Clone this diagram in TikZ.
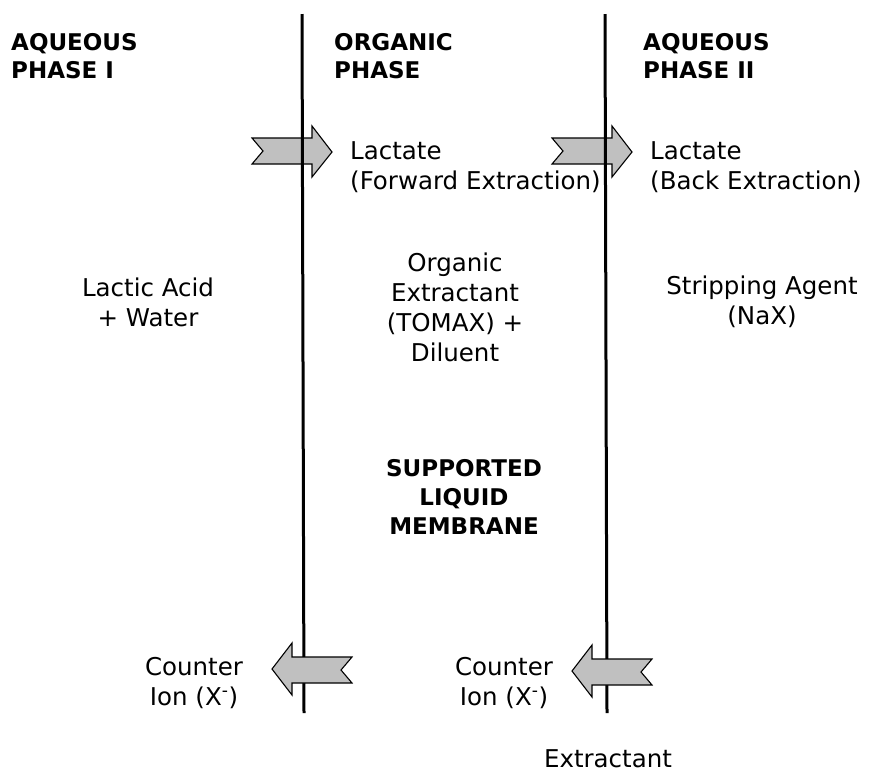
\documentclass[tikz,border=0pt]{standalone}
\usepackage{fontspec}
\setmainfont{DejaVu Sans}
\definecolor{flowgray}{RGB}{192,192,192}
\begin{document}
\begin{tikzpicture}[x=1pt, y=-1pt, flow/.style={draw=black, fill=flowgray, line width=1.1pt, line join=miter}]
        \tikzset{phase/.style={font=\bfseries\fontsize{23}{28}\selectfont, align=left, anchor=west, inner sep=0pt},
                 txt/.style={font=\fontsize{24.5}{30}\selectfont, align=center, inner sep=0pt},
                 wall/.style={line width=3pt}};
        \useasboundingbox (0,0) rectangle (874,772);

        % phase titles
        \node[phase] (aq1) at (11, 56) {AQUEOUS\\PHASE I};
        \node[phase] (org) at (334, 56) {ORGANIC\\PHASE};
        \node[phase] (aq2) at (643, 56) {AQUEOUS\\PHASE II};

        % lactate going across
        \foreach \ax in {252, 552}
            \draw[flow] (\ax,138) -- ++(60,0) -- ++(0,-12) -- ++(20,26) -- ++(-20,25)
                -- ++(0,-13) -- ++(-60,0) -- ++(11,-13) -- cycle;

        % membrane walls
        \coordinate (w1top) at (302, 14);
        \coordinate (w1bot) at (304, 713);
        \coordinate (w2top) at (605, 14);
        \coordinate (w2bot) at (607, 713);
        \draw[wall] (w1top) -- (w1bot);
        \draw[wall] (w2top) -- (w2bot);

        % counter ions coming back
        \foreach \ax/\ay in {272/669, 572/671}
            \draw[flow] (\ax,\ay) -- ++(20,-26) -- ++(0,14) -- ++(60,0) -- ++(-11,13)
                -- ++(11,13) -- ++(-60,0) -- ++(0,12) -- cycle;

        \node[txt, align=left, anchor=west] (lac1) at (350, 167) {Lactate\\(Forward Extraction)};
        \node[txt, align=left, anchor=west] (lac2) at (650, 167) {Lactate\\(Back Extraction)};
        \node[txt] (feed) at (148, 302) {Lactic Acid\\+ Water};
        \node[txt] (solv) at (455, 307) {Organic\\Extractant\\(TOMAX) +\\Diluent};
        \node[txt] (strip) at (762, 302) {Stripping Agent\\(NaX)};
        \node[txt, font=\bfseries\fontsize{23}{29}\selectfont] (slm) at (464, 497) {SUPPORTED\\LIQUID\\MEMBRANE};
        \node[txt] (ion1) at (194, 683) {Counter\\Ion (X\textsuperscript{-})};
        \node[txt] (ion2) at (504, 683) {Counter\\Ion (X\textsuperscript{-})};
        \node[txt] (ext) at (608, 759) {Extractant};
    \end{tikzpicture}
\end{document}
